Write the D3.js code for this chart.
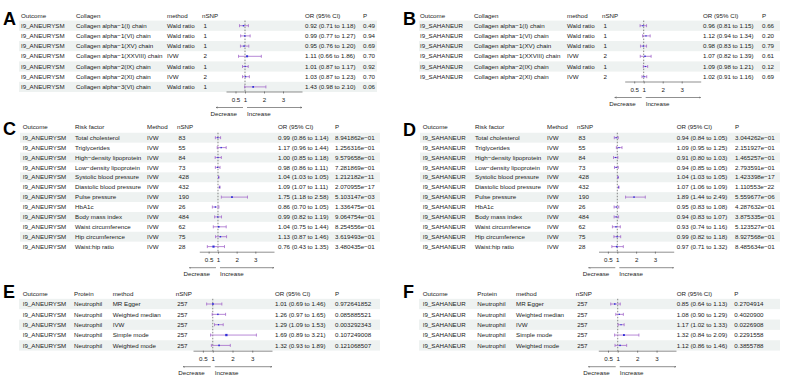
<!DOCTYPE html>
<html><head><meta charset="utf-8">
<script src="https://cdn.jsdelivr.net/npm/d3@7"></script>
<style>
body{margin:0;background:#fff}
svg{display:block}
text{font-family:"Liberation Sans",Arial,Helvetica,sans-serif;fill:#222}
</style>
</head><body>
<svg id="chart" width="800" height="387"></svg>
<script>
// ---------------- DATA ----------------
const tickValues = [0.5, 1, 2, 3];
const tickLabels = ["0.5", "1", "2", "3"];
const arrowLabels = ["Decrease", "Increase"];

// Panel A
const aOutcome = "I9_ANEURYSM";
const aCollagen = ["Collagen alpha−1(I) chain","Collagen alpha−1(VI) chain","Collagen alpha−1(XV) chain","Collagen alpha−1(XXVIII) chain","Collagen alpha−2(IX) chain","Collagen alpha−2(XI) chain","Collagen alpha−3(VI) chain"];
const aMethod = ["Wald ratio","Wald ratio","Wald ratio","IVW","Wald ratio","IVW","Wald ratio"];
const aNSNP = [1,1,1,2,1,2,1];
const aOR = [0.92,0.99,0.95,1.11,1.01,1.03,1.43];
const aLo = [0.71,0.77,0.76,0.66,0.87,0.87,0.98];
const aHi = [1.18,1.27,1.20,1.86,1.17,1.23,2.10];
const aP = ["0.49","0.94","0.69","0.70","0.92","0.70","0.06"];

// Panel B
const bOutcome = "I9_SAHANEUR";
const bCollagen = ["Collagen alpha−1(I) chain","Collagen alpha−1(VI) chain","Collagen alpha−1(XV) chain","Collagen alpha−1(XXVIII) chain","Collagen alpha−2(IX) chain","Collagen alpha−2(XI) chain"];
const bMethod = ["Wald ratio","Wald ratio","Wald ratio","IVW","Wald ratio","IVW"];
const bNSNP = [1,1,1,2,1,2];
const bOR = [0.96,1.12,0.98,1.07,1.09,1.02];
const bLo = [0.81,0.94,0.83,0.82,0.98,0.91];
const bHi = [1.15,1.34,1.15,1.39,1.21,1.16];
const bP = ["0.66","0.20","0.79","0.61","0.12","0.69"];

// Panel C / D shared rows
const riskFactors = ["Total cholesterol","Triglycerides","High−density lipoprotein","Low−density lipoprotein","Systolic blood pressure","Diastolic blood pressure","Pulse pressure","HbA1c","Body mass index","Waist circumference","Hip circumference","Waist:hip ratio"];
const riskMethod = ["IVW","IVW","IVW","IVW","IVW","IVW","IVW","IVW","IVW","IVW","IVW","IVW"];
const riskNSNP = [83,55,84,73,428,432,190,26,484,62,75,28];

const cOutcome = "I9_ANEURYSM";
const cOR = [0.99,1.17,1.00,0.98,1.04,1.09,1.75,0.86,0.99,1.04,1.13,0.76];
const cLo = [0.86,0.96,0.85,0.86,1.03,1.07,1.18,0.70,0.82,0.75,0.87,0.43];
const cHi = [1.14,1.44,1.18,1.11,1.05,1.11,2.58,1.05,1.19,1.44,1.46,1.35];
const cP = ["8.941862e−01","1.256316e−01","9.579658e−01","7.281869e−01","1.212182e−11","2.070955e−17","5.103147e−03","1.336475e−01","9.064754e−01","8.254556e−01","3.619493e−01","3.480435e−01"];

const dOutcome = "I9_SAHANEUR";
const dOR = [0.94,1.09,0.91,0.94,1.04,1.07,1.89,0.95,0.94,0.93,0.99,0.97];
const dLo = [0.84,0.95,0.80,0.85,1.03,1.06,1.44,0.83,0.83,0.74,0.82,0.71];
const dHi = [1.05,1.25,1.03,1.05,1.05,1.09,2.49,1.08,1.07,1.16,1.18,1.32];
const dP = ["3.044262e−01","2.151927e−01","1.465257e−01","2.793591e−01","1.423398e−17","1.110553e−22","5.559677e−06","4.287632e−01","3.875335e−01","5.123527e−01","8.927568e−01","8.485634e−01"];

// Panel E / F shared rows
const protein = ["Neutrophil","Neutrophil","Neutrophil","Neutrophil","Neutrophil"];
const mrMethods = ["MR Egger","Weighted median","IVW","Simple mode","Weighted mode"];
const mrNSNP = [257,257,257,257,257];

const eOutcome = "I9_ANEURYSM";
const eOR = [1.01,1.26,1.29,1.69,1.32];
const eLo = [0.69,0.97,1.09,0.89,0.93];
const eHi = [1.46,1.65,1.53,3.21,1.89];
const eP = ["0.972641852","0.085885521","0.003292343","0.107249008","0.121068507"];

const fOutcome = "I9_SAHANEUR";
const fOR = [0.85,1.08,1.17,1.32,1.12];
const fLo = [0.64,0.90,1.02,0.84,0.86];
const fHi = [1.13,1.29,1.33,2.09,1.46];
const fP = ["0.2704914","0.4020900","0.0226908","0.2291558","0.3855788"];

// ---------------- LAYOUT ----------------
const rep = (v, n) => Array.from({length: n}, () => v);

const panels = [
  { letter:"A", lx:3, ly:25,
    headers:["Outcome","Collagen","method","nSNP"], cols:[rep(aOutcome,7), aCollagen, aMethod, aNSNP],
    or:aOR, lo:aLo, hi:aHi, p:aP,
    colX:[21,76,167,202], fx:[226,302], orX:305, pX:363, band:[19,377],
    headerY:15.6, rowY0:25.7, rowH:10.2, axisY:91.5 },
  { letter:"B", lx:403, ly:25,
    headers:["Outcome","Collagen","method","nSNP"], cols:[rep(bOutcome,6), bCollagen, bMethod, bNSNP],
    or:bOR, lo:bLo, hi:bHi, p:bP,
    colX:[420,474,567,602], fx:[624.7,700.7], orX:703, pX:762, band:[419,780],
    headerY:15.6, rowY0:25.7, rowH:10.2, axisY:81.5 },
  { letter:"C", lx:3, ly:135,
    headers:["Outcome","Risk factor","Method","nSNP"], cols:[rep(cOutcome,12), riskFactors, riskMethod, riskNSNP],
    or:cOR, lo:cLo, hi:cHi, p:cP,
    colX:[22.7,75,147,177], fx:[199.3,274], orX:278, pX:335, band:[20,380],
    headerY:126.7, rowY0:137.7, rowH:9.9, axisY:251.7 },
  { letter:"D", lx:403, ly:136,
    headers:["Outcome","Risk factor","Method","nSNP"], cols:[rep(dOutcome,12), riskFactors, riskMethod, riskNSNP],
    or:dOR, lo:dLo, hi:dHi, p:dP,
    colX:[422.7,475,547,577], fx:[598.5,673.7], orX:676.7, pX:735, band:[420,780],
    headerY:126.7, rowY0:137.7, rowH:9.9, axisY:251.7 },
  { letter:"E", lx:3, ly:298,
    headers:["Outcome","Protein","method","nSNP"], cols:[rep(eOutcome,5), protein, mrMethods, mrNSNP],
    or:eOR, lo:eLo, hi:eHi, p:eP,
    colX:[22.7,74,112.7,175.7], fx:[193,272], orX:275, pX:335, band:[19,380],
    headerY:294.3, rowY0:304, rowH:10.35, axisY:350.7 },
  { letter:"F", lx:403, ly:298,
    headers:["Outcome","Protein","method","nSNP"], cols:[rep(fOutcome,5), protein, mrMethods, mrNSNP],
    or:fOR, lo:fLo, hi:fHi, p:fP,
    colX:[422.7,477.3,516,575.7], fx:[598.3,676], orX:676.7, pX:734.3, band:[419,780],
    headerY:294.3, rowY0:304, rowH:10.35, axisY:350.7 }
];

const FS = 6.2;
const BAND = "#eef2f1";
const CI_COL = "#a569cc";
const PT_COL = "#3030d8";
const svg = d3.select("#chart");
svg.append("defs").append("marker")
  .attr("id","arr").attr("viewBox","0 0 10 10").attr("refX",9).attr("refY",5)
  .attr("markerWidth",4).attr("markerHeight",4).attr("orient","auto-start-reverse")
  .append("path").attr("d","M0,1 L9,5 L0,9").attr("fill","none").attr("stroke","#444").attr("stroke-width",1.2);

function fmt(v){ return v.toFixed(2); }

panels.forEach(P => {
  const g = svg.append("g");
  const n = P.or.length;
  const y = i => P.rowY0 + i * P.rowH;
  const x = d3.scaleLinear().domain([0, 4]).range(P.fx);

  // bands
  g.selectAll("rect.band").data(d3.range(n).filter(i => i % 2 === 0)).join("rect")
    .attr("x", P.band[0]).attr("width", P.band[1] - P.band[0])
    .attr("y", i => y(i) - P.rowH / 2).attr("height", P.rowH)
    .attr("fill", BAND);

  // letter
  g.append("text").attr("x", P.lx).attr("y", P.ly).text(P.letter)
    .attr("font-size", 18).attr("font-weight", "bold")
    .style("fill","#000");

  // headers
  const hdrs = P.headers.map((h, k) => ({t:h, x:P.colX[k]}))
    .concat([{t:"OR (95% CI)", x:P.orX}, {t:"P", x:P.pX}]);
  g.selectAll("text.hdr").data(hdrs).join("text")
    .attr("x", d => d.x).attr("y", P.headerY + FS*0.35)
    .attr("font-size", FS).text(d => d.t);

  // table body
  P.cols.forEach((col, k) => {
    g.selectAll(null).data(col).join("text")
      .attr("x", P.colX[k] + (k === 3 ? 1.5 : 0)).attr("y", (d, i) => y(i) + FS*0.35)
      .attr("font-size", FS).text(d => d);
  });
  g.selectAll(null).data(P.or).join("text")
    .attr("x", P.orX).attr("y", (d, i) => y(i) + FS*0.35).attr("font-size", FS)
    .text((d, i) => `${fmt(d)} (${fmt(P.lo[i])} to ${fmt(P.hi[i])})`);
  g.selectAll(null).data(P.p).join("text")
    .attr("x", P.pX).attr("y", (d, i) => y(i) + FS*0.35).attr("font-size", FS).text(d => d);

  // reference line
  g.append("line").attr("x1", x(1)).attr("x2", x(1))
    .attr("y1", y(0) - P.rowH/2).attr("y2", P.axisY)
    .attr("stroke", "#555").attr("stroke-width", 0.7).attr("stroke-dasharray", "1.5,1.5");

  // CIs
  const ci = g.selectAll(null).data(P.or).join("g");
  ci.append("line").attr("x1", (d,i) => x(P.lo[i])).attr("x2", (d,i) => x(P.hi[i]))
    .attr("y1", (d,i) => y(i)).attr("y2", (d,i) => y(i)).attr("stroke", CI_COL).attr("stroke-width", 0.8);
  ci.append("line").attr("x1", (d,i) => x(P.lo[i])).attr("x2", (d,i) => x(P.lo[i]))
    .attr("y1", (d,i) => y(i) - 1.5).attr("y2", (d,i) => y(i) + 1.5).attr("stroke", CI_COL).attr("stroke-width", 0.8);
  ci.append("line").attr("x1", (d,i) => x(P.hi[i])).attr("x2", (d,i) => x(P.hi[i]))
    .attr("y1", (d,i) => y(i) - 1.5).attr("y2", (d,i) => y(i) + 1.5).attr("stroke", CI_COL).attr("stroke-width", 0.8);
  ci.append("rect")
    .each(function(d, i){
      const s = 0.45 + 0.55 * Math.log(P.hi[i] / P.lo[i]);
      d3.select(this).attr("x", x(d) - s).attr("y", y(i) - s).attr("width", 2*s).attr("height", 2*s);
    })
    .attr("fill", PT_COL);

  // axis
  const axis = d3.axisBottom(x).tickValues(tickValues).tickFormat((d, k) => tickLabels[k]).tickSize(2).tickSizeOuter(0);
  const ag = g.append("g").attr("transform", `translate(0,${P.axisY})`).call(axis);
  ag.select(".domain").attr("stroke", "#444").attr("stroke-width", 0.6);
  ag.selectAll(".tick line").attr("stroke", "#444").attr("stroke-width", 0.6);
  ag.selectAll(".tick text").attr("font-size", FS).attr("dy", "0.35em").attr("y", 8.5)
    .attr("font-family", '"Liberation Sans",Arial,sans-serif').attr("fill", "#222");

  // arrows
  const ay = P.axisY + 16;
  g.append("line").attr("x1", x(1) - 2).attr("x2", x(0) - 10).attr("y1", ay).attr("y2", ay)
    .attr("stroke", "#444").attr("stroke-width", 0.6).attr("marker-end", "url(#arr)");
  g.append("line").attr("x1", x(1) + 2).attr("x2", x(4)).attr("y1", ay).attr("y2", ay)
    .attr("stroke", "#444").attr("stroke-width", 0.6).attr("marker-end", "url(#arr)");
  g.append("text").attr("x", x(1) - 8).attr("y", ay + 6 + FS*0.35).attr("text-anchor", "end")
    .attr("font-size", FS).text(arrowLabels[0]);
  g.append("text").attr("x", x(1) + 2).attr("y", ay + 6 + FS*0.35)
    .attr("font-size", FS).text(arrowLabels[1]);
});
</script>
</body></html>
